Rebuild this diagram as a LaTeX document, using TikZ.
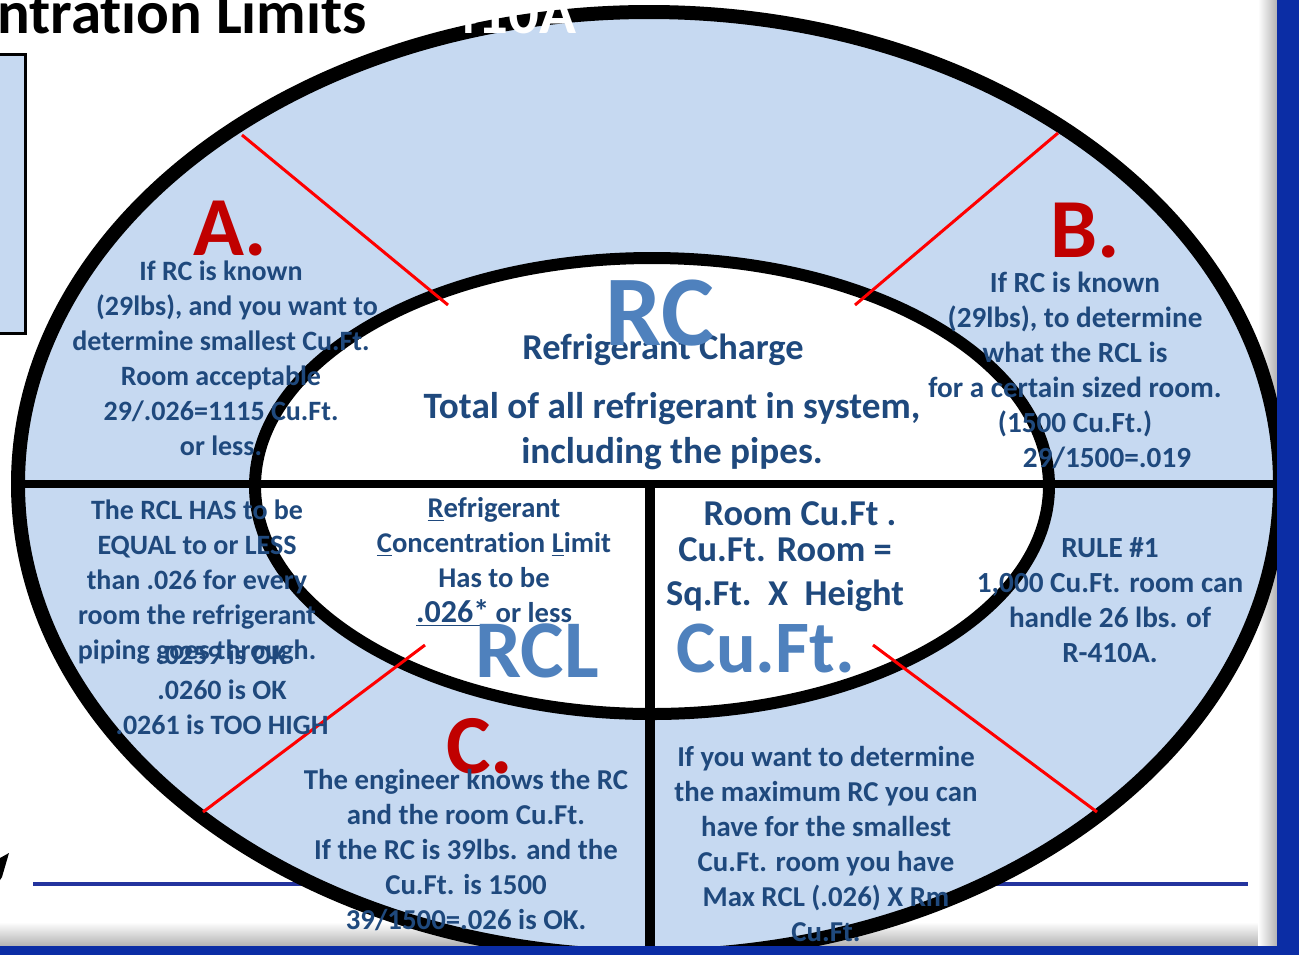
\documentclass[tikz,border=0pt]{standalone}
\usepackage{fontspec}
\setmainfont{Carlito}[Ligatures=CommonOff]
\definecolor{ring}{HTML}{C6D9F1}
\definecolor{deep}{HTML}{1F497D}
\definecolor{steel}{HTML}{4F81BD}
\definecolor{darkred}{HTML}{C00000}
\definecolor{frame}{HTML}{0B2DA5}
\definecolor{rulerblue}{HTML}{24349E}
\begin{document}
\begin{tikzpicture}[x=0.5pt, y=-0.5pt,
    every node/.style={inner sep=0pt, align=center, text=deep},
    body/.style={font=\bfseries\fontsize{14}{17.5}\selectfont},
    wide/.style={font=\bfseries\fontsize{14.6}{17.5}\selectfont},
    head/.style={font=\bfseries\fontsize{18.2}{22.5}\selectfont},
    big/.style={text=steel, font=\bfseries\fontsize{50}{50}\selectfont},
    letter/.style={text=darkred, font=\bfseries\fontsize{42}{42}\selectfont},
    slash/.style={red, line width=1.5pt}]
  \useasboundingbox (0,0) rectangle (1299,954);
  \shade[top color=white, bottom color=gray!60] (0,922) rectangle (1277,946);
  \shade[left color=white, right color=gray!60] (1258,0) rectangle (1277,946);
  \node[anchor=base west, text=black, font=\bfseries\fontsize{30.5}{30.5}\selectfont] (title) at (-3,33) {ntration Limits};
  \draw[line width=1.5pt, fill=ring] (-20,54) rectangle (25,333);
  \draw[rulerblue, line width=2pt] (33,884) -- (1248,884);
  \fill (0,858) -- (9,853) -- (2,877) -- (0,880) -- cycle;
  \coordinate (mid) at (649,484);
  \draw[line width=7pt, fill=ring] (mid) ellipse [x radius=631, y radius=472];
  \draw[line width=6pt, fill=white] (652,486) ellipse [x radius=397, y radius=228];
  \draw[line width=4pt] (18,484) -- (1280,484);
  \draw[line width=5pt] (650,484) -- (650,960);
  \draw[slash] (242,135) -- (448,305);
  \draw[slash] (1058,133) -- (855,305);
  \draw[slash] (425,645) -- (203,812);
  \draw[slash] (873,645) -- (1097,812);
  \node[anchor=base west, text=white, font=\bfseries\fontsize{30.5}{30.5}\selectfont] (grade) at (446,33) {410A};
  \node[letter] (markA) at (230,229) {A.};
  \node[body] (partA) at (221,358) {If RC is known\\\hspace*{16pt}(29lbs), and you want to\\determine smallest Cu.Ft.\\Room acceptable\\29/.026=1115 Cu.Ft.\\or less.};
  \node[letter] (markB) at (1085,231) {B.};
  \node[wide] (partB) at (1075,370) {If RC is known\\(29lbs), to determine\\what the RCL is\\for a certain sized room.\\(1500 Cu.Ft.)\\\hspace*{32pt}29/1500=.019};
  \node[head] (chargeName) at (663,350) {Refrigerant Charge};
  \node[big] (charge) at (660,313) {RC};
  \node[head, font=\bfseries\fontsize{18.6}{22.5}\selectfont] (chargeText) at (672,431) {Total of all refrigerant in system,\\including the pipes.};
  \node[body] (ruleText) at (197,582) {The RCL HAS to be\\EQUAL to or LESS\\than .026 for every\\room the refrigerant\\piping goes through.};
  \node[body] (checks) at (222,690) {.0259 is OK\\.0260 is OK\\.0261 is TOO HIGH};
  \node[body, font=\bfseries\fontsize{14.3}{17.5}\selectfont] (limitText) at (494,562) {\underline{R}efrigerant\\\underline{C}oncentration \underline{L}imit\\Has to be\\{\fontsize{16}{17.5}\selectfont\underline{.026*}} or less};
  \node[big, font=\bfseries\fontsize{41}{41}\selectfont] (limit) at (537,651) {RCL};
  \node[head] (roomA) at (800,514) {Room Cu.Ft .};
  \node[head] (roomB) at (785,550) {Cu.Ft. Room =};
  \node[head] (roomC) at (785,596) {Sq.Ft.\ \ X\ \ Height};
  \node[big, font=\bfseries\fontsize{37}{37}\selectfont] (volume) at (766,648) {Cu.Ft.};
  \node[wide] (rule) at (1110,600) {RULE \#1\\1,000 Cu.Ft. room can\\handle 26 lbs. of\\R-410A.};
  \node[letter] (markC) at (480,746) {C.};
  \node[body, font=\bfseries\fontsize{14.4}{17.5}\selectfont] (partC) at (466,850) {The engineer knows the RC\\and the room Cu.Ft.\\If the RC is 39lbs. and the\\Cu.Ft. is 1500\\39/1500=.026 is OK.};
  \node[body, font=\bfseries\fontsize{14.4}{17.5}\selectfont] (partD) at (826,844) {If you want to determine\\the maximum RC you can\\have for the smallest\\Cu.Ft. room you have\\Max RCL (.026) X Rm\\Cu.Ft.};
  \fill[frame] (1277,0) rectangle (1310,960);
  \fill[frame] (0,946) rectangle (1310,960);
\end{tikzpicture}
\end{document}
